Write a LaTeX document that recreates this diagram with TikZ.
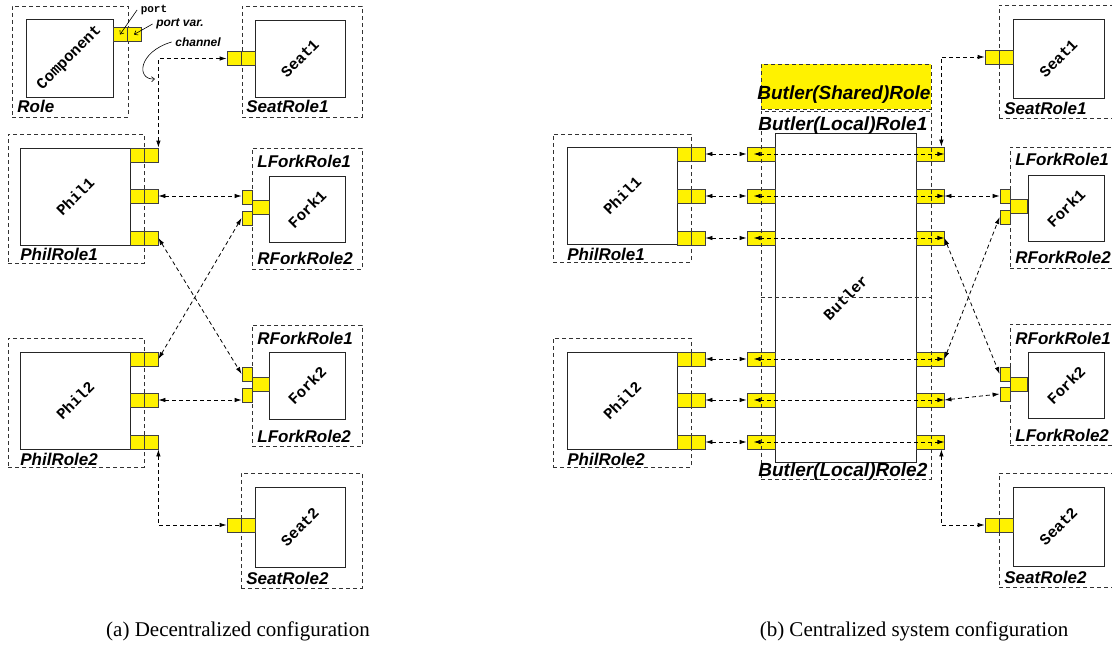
\documentclass[tikz,border=0pt]{standalone}
\usepackage{fontspec}
\setmainfont{Liberation Serif}
\setsansfont{Liberation Sans}
\setmonofont{Liberation Mono}
\usepackage{graphicx}
\usetikzlibrary{positioning, arrows.meta}

\begin{document}
\begin{tikzpicture}[x=1pt, y=-1pt, line width=0.8pt, >={Latex[length=7pt,width=4.5pt]},
    role/.style={draw=black!80, dashed, dash pattern=on 4pt off 3pt, inner sep=0pt},
    comp/.style={draw=black!85, fill=white, inner sep=0pt, font=\ttfamily\bfseries\fontsize{15.5}{16}\selectfont},
    port/.style={draw=black!75, fill=yellow, inner sep=0pt, minimum width=14, minimum height=14},
    fvar/.style={port, minimum width=10},
    fblk/.style={port, minimum width=17},
    bport/.style={port, minimum width=28},
    lbl/.style={anchor=base west, inner sep=0pt, font=\sffamily\bfseries\itshape\fontsize{17}{18}\selectfont},
    blbl/.style={lbl, font=\sffamily\bfseries\itshape\fontsize{19}{20}\selectfont},
    chan/.style={dashed, dash pattern=on 4pt off 3pt, <->},
    note/.style={-{Straight Barb[length=3pt,width=5pt]}, line width=0.6pt},
    capt/.style={anchor=base, font=\fontsize{21}{24}\selectfont}]
            \useasboundingbox (0,0) rectangle (1112,645);

            \node[role, minimum width=116, minimum height=111] (rolea) at (70,61.5) {};
            \node[comp, minimum width=87, minimum height=78] (component) at (69.5,58) {\rotatebox{45}{Component}};
            \node[port] (cport) at (120,34.5) {};
            \node[port] (cvar) at (134,34.5) {};
            \node[lbl] (rolelbl) at (17,112) {Role};
            \node[font=\ttfamily\bfseries\fontsize{11}{12}\selectfont] (lport) at (154,10) {port};
            \node[font=\sffamily\bfseries\itshape\fontsize{12}{13}\selectfont] (lpvar) at (180,24) {port var.};
            \node[font=\sffamily\bfseries\itshape\fontsize{12}{13}\selectfont] (lchan) at (198,42) {channel};
            \coordinate (chanpt) at (155,79);

            \node[role, minimum width=120, minimum height=111] (seatrole1) at (302,61.5) {};
            \node[comp, minimum width=90, minimum height=77] (seat1) at (300,58.5) {\rotatebox{45}{Seat1}};
            \node[port] (s1p) at (248,58.5) {};
            \node[port] (s1v) at (234,58.5) {};
            \node[lbl] (seatrole1lbl) at (246,112) {SeatRole1};

            \node[role, minimum width=136, minimum height=129] (philrole1) at (76,198.5) {};
            \node[comp, minimum width=110, minimum height=97] (phil1) at (75,196.5) {\rotatebox{45}{Phil1}};
            \node[port] (ph1p1) at (137,155) {};
            \node[port] (ph1v1) at (151,155) {};
            \node[port] (ph1p2) at (137,196) {};
            \node[port] (ph1v2) at (151,196) {};
            \node[port] (ph1p3) at (137,238) {};
            \node[port] (ph1v3) at (151,238) {};
            \node[lbl] (philrole1lbl) at (20,260) {PhilRole1};

            \node[role, minimum width=110, minimum height=121] (forkrole1) at (307,208.5) {};
            \node[comp, minimum width=76, minimum height=66] (fork1) at (307,209) {\rotatebox{45}{Fork1}};
            \node[fvar] (f1a) at (247,197) {};
            \node[fvar] (f1b) at (247,218) {};
            \node[fblk] (f1p) at (260.5,207) {};
            \node[lbl] (lforkrole1lbl) at (257,167) {LForkRole1};
            \node[lbl] (rforkrole2lbl) at (257,264) {RForkRole2};

            \node[role, minimum width=136, minimum height=129] (philrole2) at (76,402.5) {};
            \node[comp, minimum width=110, minimum height=97] (phil2) at (75,400.5) {\rotatebox{45}{Phil2}};
            \node[port] (ph2p1) at (137,359) {};
            \node[port] (ph2v1) at (151,359) {};
            \node[port] (ph2p2) at (137,400) {};
            \node[port] (ph2v2) at (151,400) {};
            \node[port] (ph2p3) at (137,442) {};
            \node[port] (ph2v3) at (151,442) {};
            \node[lbl] (philrole2lbl) at (20,465) {PhilRole2};

            \node[role, minimum width=110, minimum height=121] (forkrole2) at (307,385.5) {};
            \node[comp, minimum width=76, minimum height=67] (fork2) at (307,385.5) {\rotatebox{45}{Fork2}};
            \node[fvar] (f2a) at (247,374) {};
            \node[fvar] (f2b) at (247,395) {};
            \node[fblk] (f2p) at (260.5,384) {};
            \node[lbl] (rforkrole1lbl) at (257,344) {RForkRole1};
            \node[lbl] (lforkrole2lbl) at (257,442) {LForkRole2};

            \node[role, minimum width=121, minimum height=115] (seatrole2) at (301.5,530.5) {};
            \node[comp, minimum width=90, minimum height=80] (seat2) at (300,527) {\rotatebox{45}{Seat2}};
            \node[port] (s2p) at (248,525) {};
            \node[port] (s2v) at (234,525) {};
            \node[lbl] (seatrole2lbl) at (246,584) {SeatRole2};

            \draw[note] (lport.west) -- (cport.center);
            \draw[note] (lpvar.west) -- (cvar.center);
            \draw[note] (lchan.west) .. controls (138,52) and (136,80) .. (chanpt);
            \draw[chan] (ph1v1.north east) |- (s1v.west);
            \draw[chan] (ph1v2.east) -- (ph1v2.east -| f1a.west);
            \draw[chan] (ph1v3.east) -- (f2a.west);
            \draw[chan] (ph2v1.east) -- (f1b.west);
            \draw[chan] (ph2v2.east) -- (ph2v2.east -| f2b.west);
            \draw[chan] (ph2v3.south east) |- (s2v.west);
            \node[capt] (capa) at (238,636) {(a) Decentralized configuration};

            \node[role, fill=yellow, minimum width=170, minimum height=45] (sharedrole) at (846,86.5) {};
            \node[blbl] (sharedlbl) at (757,99) {Butler(Shared)Role};
            \node[comp, minimum width=141, minimum height=329] (butler) at (845.5,297.5) {\rotatebox{45}{Butler}};
            \node[bport] (bl1) at (761,154) {};
            \node[bport] (bl2) at (761,196) {};
            \node[bport] (bl3) at (761,238) {};
            \node[bport] (bl4) at (761,359) {};
            \node[bport] (bl5) at (761,400) {};
            \node[bport] (bl6) at (761,442) {};
            \node[bport] (br1) at (930,154) {};
            \node[bport] (br2) at (930,196) {};
            \node[bport] (br3) at (930,238) {};
            \node[bport] (br4) at (930,359) {};
            \node[bport] (br5) at (930,400) {};
            \node[bport] (br6) at (930,442) {};
            \node[role, minimum width=170, minimum height=368] (localrole) at (846,295) {};
            \node[blbl] (local1lbl) at (758,130) {Butler(Local)Role1};
            \node[blbl] (local2lbl) at (758,476) {Butler(Local)Role2};

            \node[role, minimum width=138, minimum height=128] (bphilrole1) at (622,198) {};
            \node[comp, minimum width=110, minimum height=97] (bphil1) at (622,195.5) {\rotatebox{45}{Phil1}};
            \node[port] (bph1p1) at (684,154) {};
            \node[port] (bph1v1) at (698,154) {};
            \node[port] (bph1p2) at (684,196) {};
            \node[port] (bph1v2) at (698,196) {};
            \node[port] (bph1p3) at (684,238) {};
            \node[port] (bph1v3) at (698,238) {};
            \node[lbl] (bphilrole1lbl) at (567,260) {PhilRole1};

            \node[role, minimum width=138, minimum height=129] (bphilrole2) at (622,402.5) {};
            \node[comp, minimum width=110, minimum height=97] (bphil2) at (622,400.5) {\rotatebox{45}{Phil2}};
            \node[port] (bph2p1) at (684,359) {};
            \node[port] (bph2v1) at (698,359) {};
            \node[port] (bph2p2) at (684,400) {};
            \node[port] (bph2v2) at (698,400) {};
            \node[port] (bph2p3) at (684,442) {};
            \node[port] (bph2v3) at (698,442) {};
            \node[lbl] (bphilrole2lbl) at (567,465) {PhilRole2};

            \node[role, minimum width=113, minimum height=113] (bseatrole1) at (1055.5,61.5) {};
            \node[comp, minimum width=91, minimum height=79] (bseat1) at (1058.5,58.5) {\rotatebox{45}{Seat1}};
            \node[port] (bs1p) at (1006,57) {};
            \node[port] (bs1v) at (992,57) {};
            \node[lbl] (bseatrole1lbl) at (1004,114) {SeatRole1};

            \node[role, minimum width=102, minimum height=121] (bforkrole1) at (1061,207.5) {};
            \node[comp, minimum width=76, minimum height=66] (bfork1) at (1066,208) {\rotatebox{45}{Fork1}};
            \node[fvar] (bf1a) at (1005,196) {};
            \node[fvar] (bf1b) at (1005,217) {};
            \node[fblk] (bf1p) at (1018.5,206.5) {};
            \node[lbl] (blforkrole1lbl) at (1015,165) {LForkRole1};
            \node[lbl] (brforkrole2lbl) at (1015,263) {RForkRole2};

            \node[role, minimum width=102, minimum height=121] (bforkrole2) at (1061,384.5) {};
            \node[comp, minimum width=76, minimum height=66] (bfork2) at (1066,385) {\rotatebox{45}{Fork2}};
            \node[fvar] (bf2a) at (1005,374) {};
            \node[fvar] (bf2b) at (1005,394) {};
            \node[fblk] (bf2p) at (1018.5,384) {};
            \node[lbl] (brforkrole1lbl) at (1015,344) {RForkRole1};
            \node[lbl] (blforkrole2lbl) at (1015,441) {LForkRole2};

            \node[role, minimum width=113, minimum height=114] (bseatrole2) at (1055.5,530) {};
            \node[comp, minimum width=91, minimum height=79] (bseat2) at (1058.5,526.5) {\rotatebox{45}{Seat2}};
            \node[port] (bs2p) at (1006,525) {};
            \node[port] (bs2v) at (992,525) {};
            \node[lbl] (bseatrole2lbl) at (1004,583) {SeatRole2};

            \draw[role] ([yshift=-2pt]localrole.west) -- ([yshift=-2pt]localrole.east);
            \draw[chan, shorten <=7pt] (bl1.west) -- (br1.east);
            \draw[chan, shorten <=7pt] (bl2.west) -- (br2.east);
            \draw[chan, shorten <=7pt] (bl3.west) -- (br3.east);
            \draw[chan, shorten <=7pt] (bl4.west) -- (br4.east);
            \draw[chan, shorten <=7pt] (bl5.west) -- (br5.east);
            \draw[chan, shorten <=7pt] (bl6.west) -- (br6.east);
            \draw[chan] (bph1v1.east) -- (bl1.west);
            \draw[chan] (bph1v2.east) -- (bl2.west);
            \draw[chan] (bph1v3.east) -- (bl3.west);
            \draw[chan] (bph2v1.east) -- (bl4.west);
            \draw[chan] (bph2v2.east) -- (bl5.west);
            \draw[chan] (bph2v3.east) -- (bl6.west);
            \draw[chan] ([xshift=-3pt]br1.north east) |- (bs1v.west);
            \draw[chan] (br2.east) -- (bf1a.west);
            \draw[chan] (br3.east) -- (bf2a.west);
            \draw[chan] (br4.east) -- (bf1b.west);
            \draw[chan] (br5.east) -- (bf2b.west);
            \draw[chan] ([xshift=-3pt]br6.south east) |- (bs2v.west);
            \node[capt] (capb) at (914,636) {(b) Centralized system configuration};
\end{tikzpicture}
\end{document}
